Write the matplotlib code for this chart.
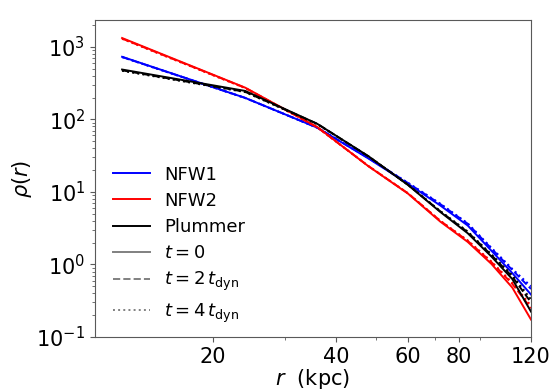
import matplotlib
matplotlib.use("Agg")
import matplotlib.pyplot as plt
from matplotlib.ticker import NullFormatter, FixedLocator
from matplotlib.lines import Line2D

r = [12, 24, 36, 48, 60, 72, 84, 96, 108, 120]

nfw1_t0 = [730, 198, 77, 29, 13.0, 6.5, 3.45, 1.55, 0.76, 0.385]
nfw1_t2 = [725, 198, 77, 29.5, 13.3, 6.8, 3.65, 1.66, 0.84, 0.46]
nfw1_t4 = [722, 197, 77, 29.5, 13.4, 6.9, 3.7, 1.70, 0.87, 0.50]

nfw2_t0 = [1324, 274, 78.5, 22.7, 9.5, 3.9, 2.05, 1.02, 0.48, 0.174]
nfw2_t2 = [1300, 272, 78, 22.8, 9.6, 4.0, 2.12, 1.08, 0.54, 0.25]
nfw2_t4 = [1290, 270, 78, 22.8, 9.6, 4.0, 2.15, 1.10, 0.56, 0.27]

plum_t0 = [487, 247, 87, 31.2, 12.5, 5.3, 2.7, 1.29, 0.63, 0.224]
plum_t2 = [475, 240, 87, 31.0, 12.6, 5.4, 2.8, 1.35, 0.68, 0.30]
plum_t4 = [468, 238, 86, 31.0, 12.6, 5.45, 2.85, 1.38, 0.71, 0.33]

xticks = [20, 40, 60, 80, 120]
xticklabels = ["20", "40", "60", "80", "120"]

fig = plt.figure(figsize=(5.52, 3.91), dpi=100)
ax = fig.add_axes([0.172, 0.138, 0.790, 0.811])

series = [
    ("blue", nfw1_t0, nfw1_t2, nfw1_t4),
    ("red", nfw2_t0, nfw2_t2, nfw2_t4),
    ("black", plum_t0, plum_t2, plum_t4),
]
for c, s0, s2, s4 in series:
    ax.plot(r, s0, color=c, ls="-", lw=1.4)
    ax.plot(r, s2, color=c, ls="--", lw=1.4)
    ax.plot(r, s4, color=c, ls=":", lw=1.4)

ax.set_xscale("log")
ax.set_yscale("log")
ax.set_xlim(10.3, 120)
ax.set_ylim(0.1, 2350)
ax.xaxis.set_major_locator(FixedLocator(xticks))
ax.set_xticklabels(xticklabels)
ax.xaxis.set_minor_formatter(NullFormatter())

ax.tick_params(axis="both", which="major", labelsize=15, color="0.35")
ax.tick_params(axis="both", which="minor", color="0.35")
for sp in ax.spines.values():
    sp.set_color("0.35")

ax.set_xlabel(r"$r$  (kpc)", fontsize=15, labelpad=0)
ax.set_ylabel(r"$\rho(r)$", fontsize=15)
ax.xaxis.set_label_coords(0.5, -0.095)
ax.yaxis.set_label_coords(-0.14, 0.5)

handles = [
    Line2D([], [], color="blue", lw=1.4),
    Line2D([], [], color="red", lw=1.4),
    Line2D([], [], color="black", lw=1.4),
    Line2D([], [], color="gray", lw=1.4, ls="-"),
    Line2D([], [], color="gray", lw=1.4, ls="--"),
    Line2D([], [], color="gray", lw=1.4, ls=":"),
]
labels = ["NFW1", "NFW2", "Plummer", r"$t=0$", r"$t=2\,t_{\rm dyn}$", r"$t=4\,t_{\rm dyn}$"]
ax.legend(handles, labels, loc="lower left", frameon=False, fontsize=13,
          handlelength=2.05, handletextpad=0.75, labelspacing=0.45,
          bbox_to_anchor=(0.005, -0.012))

fig.savefig("out.png", dpi=100)
